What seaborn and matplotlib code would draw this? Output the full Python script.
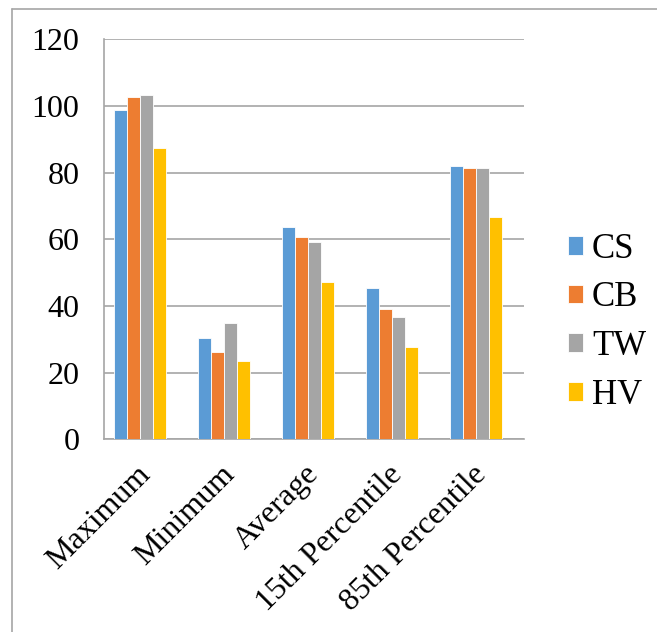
import matplotlib
matplotlib.use("Agg")
import matplotlib.pyplot as plt
import seaborn as sns
import pandas as pd
from matplotlib.lines import Line2D

categories = ["Maximum", "Minimum", "Average", "15th Percentile", "85th Percentile"]
series = ["CS", "CB", "TW", "HV"]
cs = [98.8, 30.5, 63.6, 45.3, 82.1]
cb = [102.8, 26.2, 60.6, 39.1, 81.3]
tw = [103.3, 35.0, 59.3, 36.7, 81.5]
hv = [87.4, 23.5, 47.3, 27.8, 66.8]
colors = ["#5B9BD5", "#ED7D31", "#A5A5A5", "#FFC000"]

rows = []
for name, vals in zip(series, [cs, cb, tw, hv]):
    for cat, v in zip(categories, vals):
        rows.append({"category": cat, "series": name, "value": v})
df = pd.DataFrame(rows)

sns.set_style("white")
plt.rcParams["font.family"] = ["Liberation Serif", "DejaVu Serif"]
plt.rcParams["text.color"] = "black"
plt.rcParams["xtick.labelcolor"] = "black"
plt.rcParams["ytick.labelcolor"] = "black"

fig = plt.figure(figsize=(6.57, 6.32), dpi=100)
ax = fig.add_axes([0.1588, 0.3048, 0.639, 0.633])

sns.barplot(data=df, x="category", y="value", hue="series", order=categories,
            hue_order=series, palette=colors, width=0.62, saturation=1,
            edgecolor="white", linewidth=0.6, ax=ax, zorder=3)

# Excel puts the bar groups a little left of the category centre
shift = 0.075
n = len(categories)
ax.set_ylim(0, 120)
ax.set_yticks(range(0, 121, 20))
ax.set_xlim(-0.5 + shift, n - 0.5 + shift)
ax.yaxis.grid(True, color="#A6A6A6", linewidth=1.2, zorder=0)
ax.set_axisbelow(True)
for s in ["top", "right"]:
    ax.spines[s].set_visible(False)
for s in ["left", "bottom"]:
    ax.spines[s].set_color("#A6A6A6")
    ax.spines[s].set_linewidth(1.2)

ax.tick_params(axis="y", direction="out", length=9, width=1.2, color="#A6A6A6",
               labelsize=23, pad=9)
ax.set_xticks([i - 0.5 + shift for i in range(n + 1)], minor=True)
ax.tick_params(axis="x", which="minor", direction="out", length=6, width=1.2,
               color="#A6A6A6")
ax.tick_params(axis="x", which="major", length=0, labelsize=23, pad=22)
ax.set_xticks([i + shift for i in range(n)])
ax.set_xticklabels(categories, rotation=45, ha="right", va="center",
                   rotation_mode="anchor")
ax.set_xlabel("")
ax.set_ylabel("")

ax.legend(loc="center left", bbox_to_anchor=(1.104, 0.293), frameon=False,
          fontsize=25, handlelength=0.45, handleheight=0.45, handletextpad=0.25,
          labelspacing=0.45, borderpad=0, borderaxespad=0)

fig.add_artist(Line2D([12 / 657, 1], [1 - 8.5 / 632, 1 - 8.5 / 632],
                      color="#A6A6A6", linewidth=1.2))
fig.add_artist(Line2D([12 / 657, 12 / 657], [0, 1 - 8.5 / 632],
                      color="#A6A6A6", linewidth=1.2))

fig.savefig("out.png", dpi=100)
